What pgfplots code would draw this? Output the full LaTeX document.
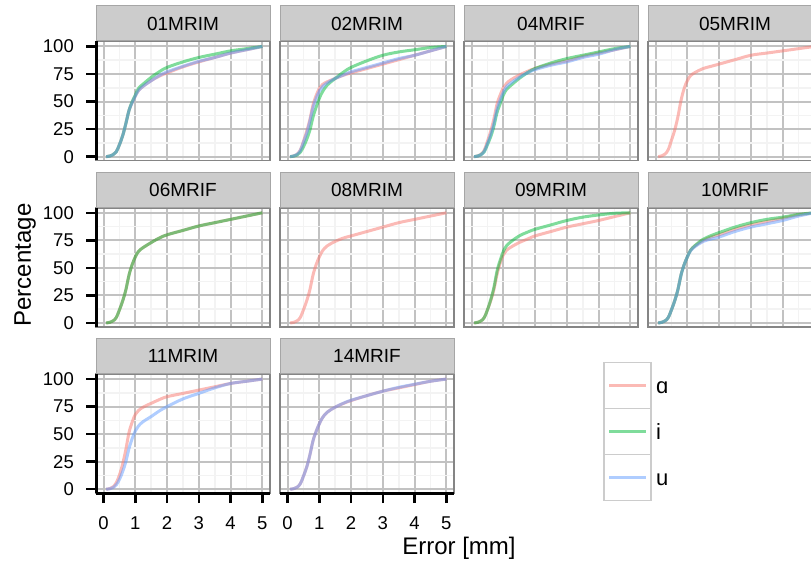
\documentclass[border=0pt]{standalone}
\usepackage{fontspec}
\setmainfont{Liberation Sans}
\usepackage{pgfplots}
\pgfplotsset{compat=1.18}
\definecolor{cA}{HTML}{F8766D}
\definecolor{cI}{HTML}{00BA38}
\definecolor{cU}{HTML}{619CFF}
\definecolor{majg}{HTML}{C2C2C2}
\definecolor{ming}{HTML}{F3F3F3}
\definecolor{pborder}{HTML}{858585}
\definecolor{sfill}{HTML}{CCCCCC}
\definecolor{sborder}{HTML}{A6A6A6}
\pgfplotsset{
  panel/.style={
    width=174pt, height=119pt, scale only axis,
    xmin=-0.24, xmax=5.24, ymin=-3.5, ymax=104.5,
    xtick={0,1,2,3,4,5}, ytick={0,25,50,75,100},
    minor xtick={0.5,1.5,2.5,3.5,4.5}, minor ytick={12.5,37.5,62.5,87.5},
    grid=both,
    major grid style={majg, line width=2pt},
    minor grid style={ming, line width=1.6pt},
    axis line style={pborder, line width=1.6pt},
    x tick style={draw=none}, y tick style={draw=none},
    major tick length=10pt, minor tick length=0pt,
    tick align=outside,
    every axis title shift=0pt,
    title style={at={(0.5,1)}, anchor=south, draw=sborder, fill=sfill, line width=1pt,
      minimum width=174pt, minimum height=35pt, inner sep=0pt,
      font=\fontsize{19}{19}\selectfont, text=black},
    /pgf/number format/assume math mode=true,
    ticklabel style={font=\fontsize{18.5}{18.5}\selectfont},
    xticklabels={}, yticklabels={},
  },
  leftcol/.style={
    yticklabels={0,25,50,75,100},
    ytick pos=left,
    y tick style={draw=black, line width=2.5pt},
    yticklabel style={inner sep=0pt, xshift=-12pt},
    after end axis/.append code={\draw[black, line width=3pt] (rel axis cs:0,0) -- (rel axis cs:0,1);},
  },
  bottomrow/.style={
    xticklabels={0,1,2,3,4,5},
    xtick pos=bottom,
    x tick style={draw=black, line width=2.5pt},
    xticklabel style={inner sep=0pt, yshift=-13pt},
    after end axis/.append code={\draw[black, line width=3pt] (rel axis cs:0,0) -- (rel axis cs:1,0);},
  },
  la/.style={cA, opacity=0.5, line width=3pt, smooth, tension=0.6, no markers},
  li/.style={cI, opacity=0.5, line width=3pt, smooth, tension=0.6, no markers},
  lu/.style={cU, opacity=0.5, line width=3pt, smooth, tension=0.6, no markers},
}
\begin{document}
\begin{tikzpicture}
% ---------------- row 1 ----------------
\begin{axis}[panel, leftcol, at={(96pt,-41.5pt)}, anchor=north west, title={01MRIM}]
\addplot[la] coordinates {(0.08,0) (0.2,0.6) (0.3,1.8) (0.4,4.5) (0.5,11) (0.6,19) (0.7,30) (0.8,42) (0.9,49) (1.0,55) (1.1,60) (1.25,64) (1.5,69) (1.75,73) (2,76) (2.5,81.5) (3,86) (3.5,90) (4,94) (4.5,97) (5,100)};
\addplot[li] coordinates {(0.08,0) (0.2,0.6) (0.3,1.8) (0.4,4.5) (0.5,11) (0.6,19) (0.7,30) (0.8,42) (0.9,50) (1.0,56) (1.1,62) (1.25,66) (1.5,72) (1.75,77) (2,81) (2.5,86) (3,90) (3.5,93) (4,96) (4.5,98) (5,100)};
\addplot[lu] coordinates {(0.08,0) (0.2,0.6) (0.3,1.8) (0.4,4.5) (0.5,11) (0.6,19) (0.7,30) (0.8,42) (0.9,49) (1.0,55) (1.1,60) (1.25,64) (1.5,69) (1.75,73.5) (2,77) (2.5,82) (3,86.5) (3.5,90) (4,94) (4.5,97) (5,100)};
\end{axis}
\begin{axis}[panel, at={(280pt,-41.5pt)}, anchor=north west, title={02MRIM}]
\addplot[la] coordinates {(0.08,0) (0.2,0.7) (0.3,2.2) (0.4,6) (0.5,14) (0.6,23) (0.7,33.5) (0.8,47) (0.9,55.5) (1.0,62) (1.1,65.5) (1.25,68) (1.5,71) (1.75,73.8) (2,76) (2.5,80) (3,84) (3.5,88) (4,92) (4.5,96) (5,100)};
\addplot[li] coordinates {(0.08,0) (0.2,0.5) (0.3,1.5) (0.4,4) (0.5,9) (0.6,15.6) (0.7,24) (0.8,36) (0.9,45) (1.0,53) (1.1,59) (1.25,65) (1.5,71) (1.75,76.5) (2,81) (2.5,87) (3,92) (3.5,95) (4,97) (4.5,99) (5,100)};
\addplot[lu] coordinates {(0.08,0) (0.2,0.7) (0.3,2.1) (0.4,5.5) (0.5,13) (0.6,21) (0.7,32) (0.8,44.6) (0.9,53) (1.0,59.5) (1.1,63.5) (1.25,67) (1.5,71) (1.75,74) (2,77) (2.5,81) (3,85) (3.5,89) (4,92) (4.5,96) (5,100)};
\end{axis}
\begin{axis}[panel, at={(464pt,-41.5pt)}, anchor=north west, title={04MRIF}]
\addplot[la] coordinates {(0.08,0) (0.2,0.7) (0.3,2.2) (0.4,6) (0.5,14) (0.6,23) (0.7,34) (0.8,47.6) (0.9,56) (1.0,62.5) (1.1,66.5) (1.25,70) (1.5,74) (1.75,77.3) (2,80) (2.5,84) (3,87) (3.5,91) (4,94) (4.5,97) (5,100)};
\addplot[li] coordinates {(0.08,0) (0.2,0.6) (0.3,1.8) (0.4,4.5) (0.5,11) (0.6,18) (0.7,27.5) (0.8,40) (0.9,48) (1.0,56) (1.1,61) (1.25,65) (1.5,71) (1.75,76) (2,80) (2.5,85) (3,89) (3.5,92) (4,95) (4.5,98) (5,100)};
\addplot[lu] coordinates {(0.08,0) (0.2,0.6) (0.3,1.9) (0.4,5) (0.5,12) (0.6,20) (0.7,30) (0.8,43) (0.9,51.6) (1.0,58.5) (1.1,63.5) (1.25,67) (1.5,72) (1.75,76) (2,79) (2.5,83) (3,86) (3.5,90) (4,93) (4.5,97) (5,100)};
\end{axis}
\begin{axis}[panel, at={(648pt,-41.5pt)}, anchor=north west, title={05MRIM}]
\addplot[la] coordinates {(0.08,0) (0.2,0.8) (0.3,2.4) (0.4,6.5) (0.5,15) (0.6,24) (0.7,36) (0.8,51) (0.9,62) (1.0,69) (1.1,73.5) (1.25,76.5) (1.5,80) (1.75,82) (2,84) (2.5,88) (3,92) (3.5,94) (4,96) (4.5,98) (5,100)};
\end{axis}
% ---------------- row 2 ----------------
\begin{axis}[panel, leftcol, at={(96pt,-207.8pt)}, anchor=north west, title={06MRIF}]
\addplot[la] coordinates {(0.08,0) (0.2,0.6) (0.3,1.9) (0.4,5) (0.5,12) (0.6,20) (0.7,30) (0.8,43.5) (0.9,53) (1.0,60) (1.1,65) (1.25,68.5) (1.5,73) (1.75,77) (2,80) (2.5,84) (3,88) (3.5,91) (4,94) (4.5,97) (5,100)};
\addplot[li] coordinates {(0.08,0) (0.2,0.6) (0.3,1.9) (0.4,5) (0.5,12) (0.6,20) (0.7,30) (0.8,43.5) (0.9,53) (1.0,60) (1.1,65) (1.25,68.5) (1.5,73) (1.75,77) (2,80) (2.5,84) (3,88) (3.5,91) (4,94) (4.5,97) (5,100)};
\end{axis}
\begin{axis}[panel, at={(280pt,-207.8pt)}, anchor=north west, title={08MRIM}]
\addplot[la] coordinates {(0.08,0) (0.2,0.6) (0.3,1.9) (0.4,5) (0.5,12) (0.6,20) (0.7,30) (0.8,43.5) (0.9,53) (1.0,60) (1.1,65.5) (1.25,70) (1.5,74) (1.75,77) (2,79) (2.5,83) (3,87) (3.5,91) (4,94) (4.5,97) (5,100)};
\end{axis}
\begin{axis}[panel, at={(464pt,-207.8pt)}, anchor=north west, title={09MRIM}]
\addplot[la] coordinates {(0.08,0) (0.2,0.6) (0.3,1.9) (0.4,5) (0.5,12) (0.6,20) (0.7,30) (0.8,44) (0.9,54.4) (1.0,62) (1.1,66) (1.25,69) (1.5,73) (1.75,76) (2,79) (2.5,83) (3,87) (3.5,90) (4,93) (4.5,96.5) (5,100)};
\addplot[li] coordinates {(0.08,0) (0.2,0.6) (0.3,1.9) (0.4,5) (0.5,12) (0.6,21) (0.7,32) (0.8,47) (0.9,57) (1.0,65) (1.1,70) (1.25,74) (1.5,79) (1.75,82.3) (2,85) (2.5,89) (3,93) (3.5,96) (4,98) (4.5,99.5) (5,100)};
\end{axis}
\begin{axis}[panel, at={(648pt,-207.8pt)}, anchor=north west, title={10MRIF}]
\addplot[la] coordinates {(0.08,0) (0.2,0.6) (0.3,1.9) (0.4,5) (0.5,12) (0.6,20) (0.7,30) (0.8,43.5) (0.9,53) (1.0,60) (1.1,66) (1.25,70) (1.5,75) (1.75,78) (2,80) (2.5,85) (3,89) (3.5,92) (4,95) (4.5,98) (5,100)};
\addplot[li] coordinates {(0.08,0) (0.2,0.6) (0.3,1.9) (0.4,5) (0.5,12) (0.6,20) (0.7,30) (0.8,43.5) (0.9,53) (1.0,60) (1.1,66) (1.25,70.5) (1.5,76) (1.75,79.3) (2,82) (2.5,87) (3,91) (3.5,94) (4,96) (4.5,98.5) (5,100)};
\addplot[lu] coordinates {(0.08,0) (0.2,0.6) (0.3,1.9) (0.4,5) (0.5,12) (0.6,20) (0.7,30) (0.8,43.5) (0.9,53) (1.0,60) (1.1,65.5) (1.25,69.5) (1.5,74) (1.75,76.2) (2,78) (2.5,83) (3,87) (3.5,90) (4,93) (4.5,97) (5,100)};
\end{axis}
% ---------------- row 3 ----------------
\begin{axis}[panel, leftcol, bottomrow, at={(96pt,-374.1pt)}, anchor=north west, title={11MRIM}]
\addplot[la] coordinates {(0.08,0) (0.2,0.7) (0.3,2.2) (0.4,6) (0.5,13) (0.6,23) (0.7,36) (0.8,51.5) (0.9,61) (1.0,68) (1.1,71.5) (1.25,74.6) (1.5,78) (1.75,81.3) (2,84) (2.5,87) (3,90) (3.5,93) (4,96) (4.5,98) (5,100)};
\addplot[lu] coordinates {(0.08,0) (0.2,0.5) (0.3,1.5) (0.4,4) (0.5,9) (0.6,16) (0.7,25) (0.8,37) (0.9,46) (1.0,53) (1.1,57.5) (1.25,61.5) (1.5,66) (1.75,71) (2,75) (2.5,82) (3,87) (3.5,92) (4,96) (4.5,98) (5,100)};
\end{axis}
\begin{axis}[panel, bottomrow, at={(280pt,-374.1pt)}, anchor=north west, title={14MRIF}]
\addplot[la] coordinates {(0.08,0) (0.2,0.6) (0.3,1.9) (0.4,5) (0.5,12) (0.6,20) (0.7,31) (0.8,44) (0.9,52.6) (1.0,59.5) (1.1,65) (1.25,70) (1.5,74.5) (1.75,77.8) (2,80.5) (2.5,85) (3,89) (3.5,92) (4,95) (4.5,98) (5,100)};
\addplot[lu] coordinates {(0.08,0) (0.2,0.6) (0.3,1.9) (0.4,5) (0.5,12) (0.6,20) (0.7,31) (0.8,44) (0.9,52.6) (1.0,59.5) (1.1,65) (1.25,70) (1.5,74.5) (1.75,78) (2,80.8) (2.5,85) (3,89) (3.5,92.5) (4,95.3) (4.5,98) (5,100)};
\end{axis}
% ---------------- titles ----------------
\node[font=\fontsize{24}{24}\selectfont] at (459pt,-548pt) {Error [mm]};
\node[font=\fontsize{24}{24}\selectfont, rotate=90] at (25pt,-265pt) {Percentage};
% ---------------- legend ----------------
\foreach \t/\c/\lab in {362.7/cA/ɑ, 408.5/cI/i, 454.5/cU/u}{
  \draw[draw=sfill, line width=1.5pt, fill=white] (604pt,-\t pt) rectangle (651pt,-\t pt-46pt);
  \draw[\c, opacity=0.5, line width=3pt] (609pt,-\t pt-23pt) -- (646pt,-\t pt-23pt);
  \node[anchor=base west, inner sep=0pt, font=\fontsize{22}{22}\selectfont] at (656pt,-\t pt-31pt) {\lab};
}
\pgfresetboundingbox
\useasboundingbox (0pt,0pt) rectangle (811pt,-564pt);
\end{tikzpicture}
\end{document}
